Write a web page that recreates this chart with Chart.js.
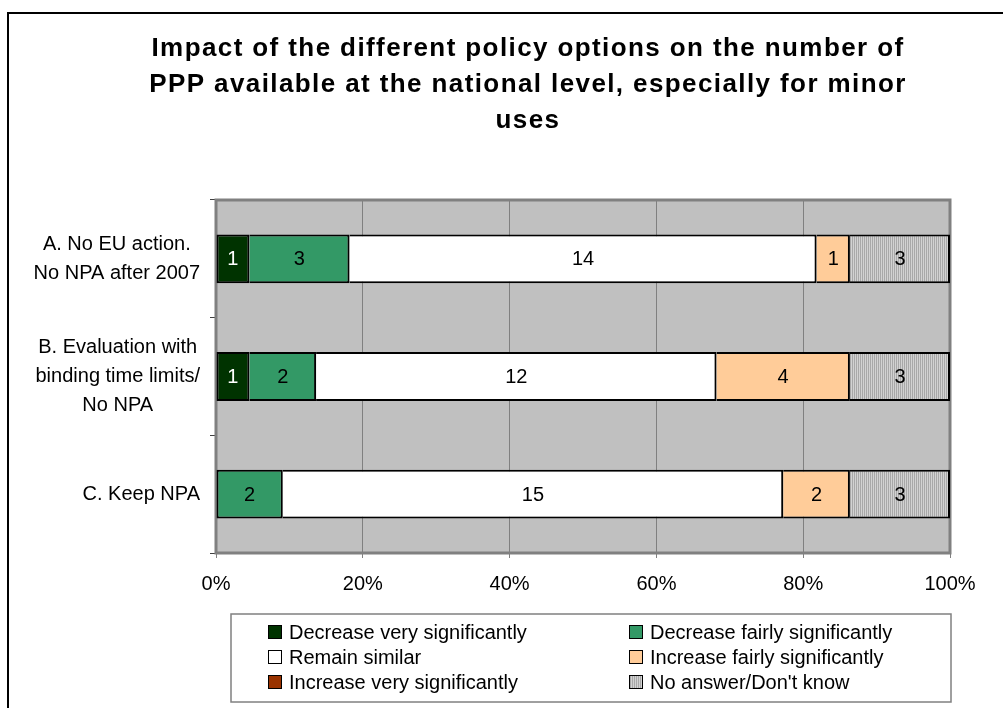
<!DOCTYPE html>
<html>
<head>
<meta charset="utf-8">
<script src="https://cdn.jsdelivr.net/npm/chart.js@4.4.0/dist/chart.umd.min.js"></script>
<style>
  html, body { margin: 0; padding: 0; background: #fff; }
</style>
</head>
<body>
<canvas id="myChart" width="1003" height="708"></canvas>
<script>
// Datos (número de respuestas)
const titulo = [
  'Impact of the different policy options on the number of',
  'PPP available at the national level, especially for minor',
  'uses'
];
const categorias = [
  ['A. No EU action.', 'No NPA after 2007'],
  ['B. Evaluation with', 'binding time limits/', 'No NPA'],
  ['C. Keep NPA']
];
const nombresSeries = [
  'Decrease very significantly',
  'Decrease fairly significantly',
  'Remain similar',
  'Increase fairly significantly',
  'Increase very significantly',
  "No answer/Don't know"
];
const decreaseVery = [1, 1, 0];
const decreaseFairly = [3, 2, 2];
const remainSimilar = [14, 12, 15];
const increaseFairly = [1, 4, 2];
const increaseVery = [0, 0, 0];
const noAnswer = [3, 3, 3];
const ticksX = [0, 20, 40, 60, 80, 100];

const series = [decreaseVery, decreaseFairly, remainSimilar, increaseFairly, increaseVery, noAnswer];
const fuente = 'Arial, "Liberation Sans", sans-serif';

// patrón rayado para "No answer"
function crearRayado() {
  const c = document.createElement('canvas');
  c.width = 2; c.height = 2;
  const g = c.getContext('2d');
  g.fillStyle = '#d2d2d2';
  g.fillRect(0, 0, 2, 2);
  g.fillStyle = '#a8a8a8';
  g.fillRect(0, 0, 1, 2);
  return g.createPattern(c, 'repeat');
}

const colores = ['#003300', '#339966', '#ffffff', '#ffcc99', '#993300', crearRayado()];

// totales por categoría para pasar a porcentaje
const totales = categorias.map((_, i) => series.reduce((s, arr) => s + arr[i], 0));

const ctx = document.getElementById('myChart');

const fondo = {
  id: 'fondo',
  beforeDraw(chart) {
    const c = chart.ctx, a = chart.chartArea;
    c.save();
    c.fillStyle = '#fff';
    c.fillRect(0, 0, chart.width, chart.height);
    // marco exterior
    c.strokeStyle = '#000';
    c.lineWidth = 2;
    c.beginPath();
    c.moveTo(8, chart.height);
    c.lineTo(8, 13);
    c.lineTo(chart.width, 13);
    c.stroke();
    // título
    c.fillStyle = '#000';
    c.font = 'bold 26px ' + fuente;
    c.letterSpacing = '1.4px';
    c.textAlign = 'center';
    c.textBaseline = 'alphabetic';
    titulo.forEach((t, k) => c.fillText(t, 528, 56 + k * 36));
    c.letterSpacing = '0px';
    // fondo del área de trazado
    c.fillStyle = '#c0c0c0';
    c.fillRect(a.left, a.top, a.right - a.left, a.bottom - a.top);
    c.restore();
  },
  beforeDatasetsDraw(chart) {
    const c = chart.ctx, a = chart.chartArea;
    c.save();
    c.strokeStyle = '#808080';
    c.lineWidth = 3;
    c.strokeRect(a.left, a.top, a.right - a.left, a.bottom - a.top);
    c.restore();
  }
};

const etiquetas = {
  id: 'etiquetas',
  afterDatasetsDraw(chart) {
    const c = chart.ctx;
    c.save();
    c.font = '20px ' + fuente;
    c.textBaseline = 'middle';
    c.textAlign = 'center';
    // valores dentro de las barras
    chart.data.datasets.forEach((ds, d) => {
      const meta = chart.getDatasetMeta(d);
      meta.data.forEach((el, i) => {
        const v = series[d][i];
        if (!v) return;
        const p = el.getCenterPoint();
        c.fillStyle = d === 0 ? '#fff' : '#000';
        c.fillText(String(v), p.x, p.y + 1);
      });
    });
    // etiquetas de categoría: bloque alineado a la derecha, líneas centradas
    const y = chart.scales.y;
    const derecha = chart.chartArea.left - 16;
    const alto = 29;
    c.fillStyle = '#000';
    chart.data.labels.forEach((lab, i) => {
      const lineas = Array.isArray(lab) ? lab : [lab];
      const ancho = Math.max(...lineas.map(t => c.measureText(t).width));
      const cx = derecha - ancho / 2;
      const cy = y.getPixelForValue(i);
      lineas.forEach((t, k) => {
        c.fillText(t, cx, cy + (k - (lineas.length - 1) / 2) * alto);
      });
    });
    // leyenda
    const caja = { x: 231, y: 614, w: 720, h: 88 };
    c.strokeStyle = '#808080';
    c.lineWidth = 1.5;
    c.strokeRect(caja.x, caja.y, caja.w, caja.h);
    c.textAlign = 'left';
    const filas = [632, 657, 682];
    const cols = [268, 629];
    chart.data.datasets.forEach((ds, d) => {
      const col = d % 2, fila = Math.floor(d / 2);
      const x = cols[col], yy = filas[fila];
      c.fillStyle = ds.backgroundColor;
      c.fillRect(x, yy - 7, 14, 14);
      c.strokeStyle = '#000';
      c.lineWidth = 1;
      c.strokeRect(x + 0.5, yy - 6.5, 13, 13);
      c.fillStyle = '#000';
      c.fillText(ds.label, x + 21, yy + 1);
    });
    c.restore();
  }
};

const datasets = series.map((arr, d) => ({
  label: nombresSeries[d],
  data: arr.map((v, i) => v / totales[i] * 100),
  backgroundColor: colores[d],
  borderColor: '#000',
  borderSkipped: false,
  borderWidth: (cx) => {
    const i = cx.dataIndex;
    if (i === undefined) return 2;
    let antes = 0;
    for (let k = 0; k < d; k++) antes += series[k][i];
    return { top: 2, bottom: 2, right: 2, left: antes === 0 ? 2 : 0 };
  },
  barPercentage: 0.415,
  categoryPercentage: 1
}));

new Chart(ctx, {
  type: 'bar',
  data: { labels: categorias, datasets: datasets },
  plugins: [fondo, etiquetas],
  options: {
    indexAxis: 'y',
    responsive: false,
    animation: false,
    layout: { padding: { top: 200, right: 53, bottom: 105, left: 80 } },
    plugins: {
      legend: { display: false },
      tooltip: { enabled: false },
      title: { display: false }
    },
    scales: {
      x: {
        stacked: true,
        min: 0,
        max: 100,
        afterBuildTicks: (s) => { s.ticks = ticksX.map(v => ({ value: v })); },
        afterFit: (s) => { s.height = 50; },
        ticks: {
          callback: v => v + '%',
          color: '#000',
          padding: 14,
          maxRotation: 0,
          font: { family: fuente, size: 20 }
        },
        grid: { color: '#808080', lineWidth: 1, tickLength: 5 },
        border: { color: '#808080', width: 2 }
      },
      y: {
        stacked: true,
        afterFit: (s) => { s.width = 136; },
        ticks: { display: false },
        grid: { offset: true, drawOnChartArea: false, color: '#404040', tickLength: 6 },
        border: { color: '#808080', width: 2 }
      }
    }
  }
});
</script>
</body>
</html>
